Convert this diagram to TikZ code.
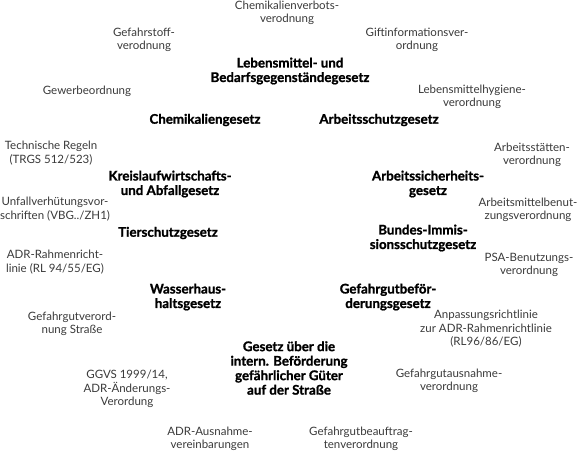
\documentclass[tikz,border=0pt]{standalone}
\usepackage{fontspec}
\setmainfont{Lato}[BoldFeatures={FakeBold=1.2}]
\definecolor{regelgrau}{HTML}{3A3A3A}

\begin{document}
\begin{tikzpicture}[x=1pt,y=-1pt,
  gesetz/.style={font=\bfseries\fontsize{13.3}{14.5}\selectfont,align=center,inner sep=0pt},
  regel/.style={font=\fontsize{11.5}{13.5}\selectfont,text=regelgrau,align=center,inner sep=0pt}]
\useasboundingbox (0,0) rectangle (578,450);
\node[regel] (chemverbv) at (287,13) {Chemikalienverbots-\\verodnung};
\node[regel] (gefstoffv) at (144,40) {Gefahrstoff-\\verodnung};
\node[regel] (giftinfov) at (417,40) {Giftinformationsver-\\ordnung};
\node[gesetz] (lmbg) at (290,71) {Lebensmittel- und\\Bedarfsgegenständegesetz};
\node[regel] (gewo) at (87,91) {Gewerbeordnung};
\node[regel] (lmhv) at (472,97) {Lebensmittelhygiene-\\verordnung};
\node[gesetz] (chemg) at (205,120) {Chemikaliengesetz};
\node[gesetz] (arbschg) at (379,120) {Arbeitsschutzgesetz};
\node[regel] (trgs) at (51,153) {Technische Regeln\\(TRGS 512/523)};
\node[regel] (arbstaettv) at (532,155) {Arbeitsstätten-\\verordnung};
\node[gesetz] (krwabfg) at (170,184) {Kreislaufwirtschafts-\\und Abfallgesetz};
\node[gesetz] (asig) at (428,184) {Arbeitssicherheits-\\gesetz};
\node[regel] (uvv) at (55,209) {Unfallverhütungsvor-\\schriften (VBG../ZH1)};
\node[regel] (ambv) at (528,210) {Arbeitsmittelbenut-\\zungsverordnung};
\node[gesetz] (tierschg) at (168,233) {Tierschutzgesetz};
\node[gesetz] (bimschg) at (423,238) {Bundes-Immis-\\sionsschutzgesetz};
\node[regel] (adrrl) at (55,262) {ADR-Rahmenricht-\\linie (RL 94/55/EG)};
\node[regel] (psabv) at (529,265) {PSA-Benutzungs-\\verordnung};
\node[gesetz] (whg) at (188,297) {Wasserhaus-\\haltsgesetz};
\node[gesetz] (ggbefg) at (388,297) {Gefahrgutbeför-\\derungsgesetz};
\node[regel] (ggvs) at (72,324) {Gefahrgutverord-\\nung Straße};
\node[regel] (anpassrl) at (486,329) {Anpassungsrichtlinie\\zur ADR-Rahmenrichtlinie\\(RL96/86/EG)};
\node[gesetz] (intbefg) at (289,368) {Gesetz über die\\intern. Beförderung\\gefährlicher Güter\\auf der Straße};
\node[regel] (adraendv) at (127,389) {GGVS 1999/14,\\ADR-Änderungs-\\Verordung};
\node[regel] (ggausnv) at (449,381) {Gefahrgutausnahme-\\verordnung};
\node[regel] (adrausn) at (210,439) {ADR-Ausnahme-\\vereinbarungen};
\node[regel] (ggbeauftrv) at (361,439) {Gefahrgutbeauftrag-\\tenverordnung};
\end{tikzpicture}
\end{document}
